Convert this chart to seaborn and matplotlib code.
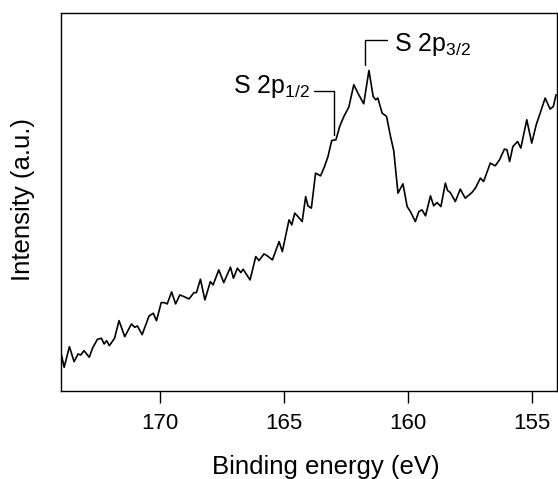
import matplotlib
matplotlib.use("Agg")
import matplotlib.pyplot as plt
import numpy as np
import seaborn as sns

# S 2p XPS spectrum
energy = [173.97, 173.86, 173.65, 173.46, 173.30, 173.19, 173.06, 172.85, 172.72, 172.52,
          172.36, 172.25, 172.15, 172.04, 171.83, 171.65, 171.42, 171.15, 171.02, 170.91,
          170.72, 170.44, 170.27, 170.14, 169.95, 169.82, 169.71, 169.53, 169.37, 169.20,
          169.03, 168.83, 168.63, 168.53, 168.37, 168.19, 167.97, 167.86, 167.63, 167.43,
          167.16, 167.04, 166.88, 166.74, 166.65, 166.37, 166.14, 166.01, 165.81, 165.67,
          165.47, 165.20, 165.07, 164.80, 164.69, 164.57, 164.44, 164.27, 164.13, 164.04,
          163.90, 163.73, 163.53, 163.37, 163.23, 163.08, 162.91, 162.75, 162.59, 162.39,
          162.19, 161.99, 161.79, 161.58, 161.41, 161.31, 161.22, 161.05, 160.87, 160.71,
          160.58, 160.41, 160.21, 160.04, 159.91, 159.71, 159.57, 159.44, 159.30, 159.10,
          158.97, 158.84, 158.68, 158.50, 158.41, 158.30, 158.10, 157.90, 157.70, 157.43,
          157.29, 157.09, 156.96, 156.69, 156.49, 156.32, 156.12, 156.02, 155.91, 155.78,
          155.59, 155.46, 155.22, 155.02, 154.84, 154.68, 154.48, 154.28, 154.15, 154.04]
intensity = [36.0, 23.7, 44.3, 29.3, 37.0, 36.0, 40.3, 33.7, 42.7, 51.7,
             52.7, 47.0, 50.3, 45.3, 52.7, 70.3, 54.3, 67.0, 63.7, 65.0,
             56.3, 75.0, 77.7, 70.3, 88.3, 88.3, 87.0, 99.0, 87.0, 96.0,
             94.3, 92.0, 98.3, 98.3, 111.7, 91.0, 109.3, 106.0, 121.0, 108.3,
             123.7, 112.7, 122.7, 118.3, 121.7, 111.0, 134.3, 130.3, 137.0, 135.0,
             131.0, 149.3, 139.3, 171.0, 166.0, 177.7, 174.3, 169.3, 194.3, 185.0,
             182.7, 217.7, 215.0, 224.3, 234.3, 250.3, 251.0, 265.0, 274.3, 283.7,
             306.0, 296.0, 287.0, 320.3, 294.3, 291.0, 292.7, 277.7, 274.3, 254.3,
             240.0, 197.7, 207.0, 184.3, 179.3, 169.3, 179.3, 181.0, 175.0, 195.0,
             185.0, 188.3, 184.3, 207.7, 200.3, 198.3, 189.3, 201.7, 192.7, 198.3,
             202.7, 212.7, 209.3, 227.7, 225.0, 231.0, 241.7, 241.0, 229.3, 244.3,
             249.3, 242.7, 271.0, 247.7, 266.0, 277.7, 292.7, 281.7, 284.3, 296.0]

xticks = [170, 165, 160, 155]

sns.set_style("white")
plt.rcParams['font.family'] = ['Liberation Sans', 'DejaVu Sans']
plt.rcParams['mathtext.default'] = 'regular'
plt.rcParams['text.color'] = 'black'
plt.rcParams['axes.labelcolor'] = 'black'
plt.rcParams['xtick.color'] = 'black'

fig = plt.figure(figsize=(5.58, 4.79), dpi=100)
ax = fig.add_axes([0.1088, 0.1837, 0.8895, 0.7898])

sns.lineplot(x=energy, y=intensity, ax=ax, color='black', linewidth=1.2,
             estimator=None, sort=False)

ax.set_xlim(174.0, 154.0)
ax.set_ylim(0, 378)
ax.set_xticks(xticks)
ax.set_yticks([])

for s in ax.spines.values():
    s.set_color('black')
    s.set_linewidth(1.0)

ax.tick_params(axis='x', direction='out', length=8.6, width=1.0, color='black',
               labelcolor='black', labelsize=16, pad=7, bottom=True)

ax.set_xlabel('Binding energy (eV)', fontsize=18.5, color='black')
ax.set_ylabel('Intensity (a.u.)', fontsize=18.5, color='black')
ax.xaxis.set_label_coords(0.534, -0.17)
ax.yaxis.set_label_coords(-0.052, 0.505)

# peak labels with bracket leaders
ax.plot([161.72, 161.72, 160.85], [326, 351, 351], color='black', lw=1.0)
ax.text(160.58, 339.3, r'S 2p$_{3/2}$', fontsize=18, ha='left', va='baseline',
        color='black')

ax.plot([163.80, 163.0, 163.0], [299.3, 299.3, 256], color='black', lw=1.0)
ax.text(163.94, 297.7, r'S 2p$_{1/2}$', fontsize=18, ha='right', va='baseline',
        color='black')

fig.savefig('out.png', dpi=100)
